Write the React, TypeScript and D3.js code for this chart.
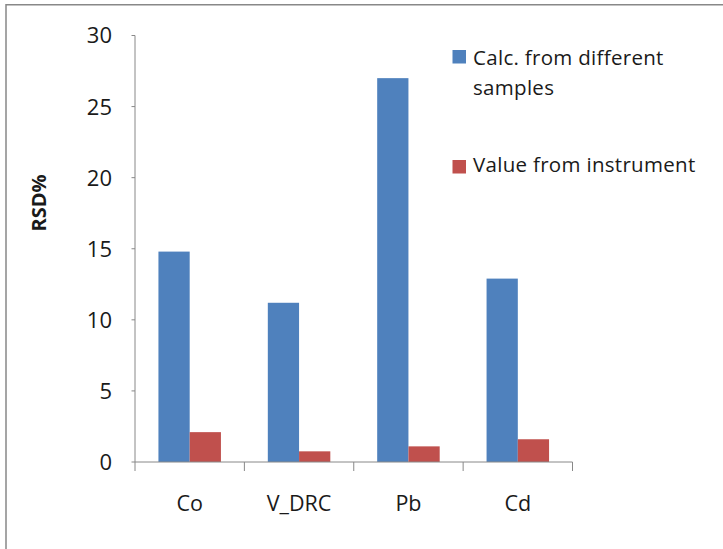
import React from "react";
import * as d3 from "d3";

const categories = ["Co", "V_DRC", "Pb", "Cd"];
const seriesNames = ["Calc. from different samples", "Value from instrument"];
const calcValues = [14.8, 11.2, 27.0, 12.9];
const instrumentValues = [2.1, 0.75, 1.1, 1.6];
const yTicks = [0, 5, 10, 15, 20, 25, 30];
const colors = ["#4F81BD", "#C0504D"];

const W = 723;
const H = 549;
const plot = { left: 135, right: 572.5, top: 35.5, bottom: 462 };
const FONT = "'Open Sans', 'Noto Sans', sans-serif";

export default function App() {
  const x = d3.scaleBand<string>().domain(categories).range([plot.left, plot.right]).paddingInner(0).paddingOuter(0);
  const bw = x.bandwidth();
  const y = d3.scaleLinear().domain([0, 30]).range([plot.bottom, plot.top]);
  const series = [calcValues, instrumentValues];
  // Excel-style gap width 150%: band = 2*bar + 1.5*bar
  const barW = bw / 3.5;
  const offset = (bw - 2 * barW) / 2;
  const axisColor = "#888888";
  const textColor = "#1a1a1a";

  return (
    <svg width={W} height={H} style={{ position: "fixed", left: 0, top: 0, background: "#fff" }} fontFamily={FONT}>
      <rect x={0} y={0} width={W} height={H} fill="#fff" />
      <rect x={6} y={4.75} width={W + 20} height={H + 20} fill="none" stroke={axisColor} strokeWidth={1.5} />
      {series.map((vals, si) =>
        categories.map((c, ci) => (
          <rect
            key={`${si}-${ci}`}
            x={(x(c) as number) + offset + si * barW}
            y={y(vals[ci])}
            width={barW}
            height={plot.bottom - y(vals[ci])}
            fill={colors[si]}
          />
        ))
      )}
      {/* y axis */}
      <line x1={plot.left} x2={plot.left} y1={y(30)} y2={plot.bottom} stroke={axisColor} strokeWidth={1} />
      {yTicks.map((t) => (
        <g key={t}>
          <line x1={plot.left - 3.5} x2={plot.left} y1={y(t)} y2={y(t)} stroke={axisColor} />
          <text x={112} y={y(t)} dy="0.36em" textAnchor="end" fontSize={22} fill={textColor}>
            {t}
          </text>
        </g>
      ))}
      {/* x axis */}
      <line x1={plot.left} x2={plot.right} y1={plot.bottom} y2={plot.bottom} stroke={axisColor} strokeWidth={1} />
      {[...categories.map((c) => x(c) as number), plot.right].map((v, i) => (
        <line key={i} x1={v} x2={v} y1={plot.bottom} y2={plot.bottom + 9} stroke={axisColor} />
      ))}
      {categories.map((c) => (
        <text key={c} x={(x(c) as number) + bw / 2} y={511} textAnchor="middle" fontSize={21.5} fill={textColor}>
          {c}
        </text>
      ))}
      <text transform={`translate(46,203) rotate(-90)`} textAnchor="middle" fontSize={20} fontWeight="bold" fill={textColor}>
        RSD%
      </text>
      {/* legend */}
      <rect x={452.5} y={50} width={13.5} height={13.5} fill={colors[0]} />
      <text x={473} y={65} fontSize={20.5} letterSpacing={0.3} fill={textColor}>Calc. from different</text>
      <text x={473} y={95} fontSize={20.5} letterSpacing={0.3} fill={textColor}>samples</text>
      <rect x={452.5} y={160} width={13.5} height={13.5} fill={colors[1]} />
      <text x={473} y={172} fontSize={20.5} letterSpacing={0.3} fill={textColor}>{seriesNames[1]}</text>
    </svg>
  );
}
